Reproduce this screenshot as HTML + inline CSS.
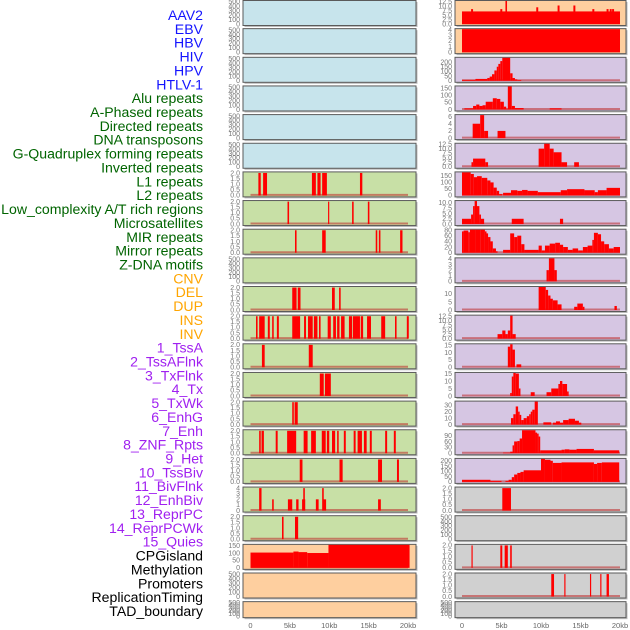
<!DOCTYPE html>
<html><head><meta charset="utf-8">
<style>
html,body{margin:0;padding:0;background:#fff;}
svg{display:block;font-family:"Liberation Sans",sans-serif;}
</style></head>
<body>
<svg id="chart" width="630" height="630" viewBox="0 0 630 630"></svg>
<script>
// ---- labels ----
const labelNames = ["AAV2","EBV","HBV","HIV","HPV","HTLV-1","Alu repeats","A-Phased repeats","Directed repeats","DNA transposons","G-Quadruplex forming repeats","Inverted repeats","L1 repeats","L2 repeats","Low_complexity A/T rich regions","Microsatellites","MIR repeats","Mirror repeats","Z-DNA motifs","CNV","DEL","DUP","INS","INV","1_TssA","2_TssAFlnk","3_TxFlnk","4_Tx","5_TxWk","6_EnhG","7_Enh","8_ZNF_Rpts","9_Het","10_TssBiv","11_BivFlnk","12_EnhBiv","13_ReprPC","14_ReprPCWk","15_Quies","CPGisland","Methylation","Promoters","ReplicationTiming","TAD_boundary"];
const labelColors = ["#1414ff","#1414ff","#1414ff","#1414ff","#1414ff","#1414ff",
 "#006400","#006400","#006400","#006400","#006400","#006400","#006400","#006400","#006400","#006400","#006400","#006400","#006400",
 "#ffa500","#ffa500","#ffa500","#ffa500","#ffa500",
 "#a020f0","#a020f0","#a020f0","#a020f0","#a020f0","#a020f0","#a020f0","#a020f0","#a020f0","#a020f0","#a020f0","#a020f0","#a020f0","#a020f0","#a020f0",
 "#000","#000","#000","#000","#000"];

// ---- x axis ----
const xTickValues = [0,5,10,15,20];
const xTickLabels = ["0","5kb","10kb","15kb","20kb"];

// ---- middle column segments [startKb, endKb, value] ----
const mid6 = [[1.0,1.3,2],[1.6,2.1,2],[7.8,8.3,2],[8.5,8.9,2],[9.1,9.7,2],[13.9,14.2,2]];
const mid7 = [[4.7,4.9,2],[9.85,10.0,2],[12.9,13.1,2],[14.9,15.1,2]];
const mid8 = [[5.65,5.85,2],[9.1,9.55,2],[15.9,16.1,2],[16.3,16.5,2],[19.0,19.3,2]];
const mid10 = [[5.3,5.85,2],[6.0,6.35,2],[10.35,10.7,2],[11.25,11.45,2]];
const mid11 = [[0.7,0.9,2],[1.1,1.8,2],[2.2,2.45,2],[2.75,2.95,2],[3.35,3.6,2],[5.3,6.3,2],[6.8,7.05,2],[7.3,7.9,2],[8.05,8.5,2],[8.7,8.9,2],[9.8,10.2,2],[10.5,10.85,2],[11.0,11.3,2],[11.5,11.95,2],[12.5,12.9,2],[13.0,13.9,2],[14.0,14.3,2],[14.8,15.3,2],[16.6,17.1,2],[18.35,18.55,2],[19.85,20.1,2]];
const mid12 = [[1.45,1.8,2],[7.4,7.9,2]];
const mid13 = [[8.8,9.3,2],[9.45,10.2,2]];
const mid14 = [[5.3,5.5,2],[5.6,6.0,2]];
const mid15 = [[1.1,1.3,2],[1.4,1.7,2],[3.2,3.45,2],[4.65,5.8,2],[6.75,7.25,2],[7.7,8.3,2],[9.05,9.55,2],[9.7,10.0,2],[10.35,10.75,2],[11.0,11.2,2],[11.85,12.1,2],[13.1,13.35,2],[13.6,14.15,2],[14.4,14.75,2],[15.15,15.4,2],[17.1,17.35,2],[18.2,18.45,2]];
const mid16 = [[6.25,6.6,2],[11.3,11.7,2],[16.2,16.7,2],[18.6,18.85,2]];
const mid17 = [[1.1,1.4,4],[2.75,2.95,2],[4.75,5.3,2],[5.8,6.1,2],[6.55,6.95,2],[6.7,6.9,4],[8.3,8.65,2],[9.1,9.3,4],[9.25,9.6,2],[16.2,16.55,2]];
const mid18 = [[4.0,4.2,2],[5.65,6.05,2]];
const mid19 = [[0,5.45,103],[5.45,6.1,110],[6.1,7.2,106],[7.2,9.9,100],[9.9,20.2,160]];

// ---- right column segments ----
const right0 = [[0,20,7.0],[1.15,1.4,8.3],[4.85,5.1,8.3],[5.5,5.7,13],[9.4,9.65,9.3],[12.1,12.35,10.3],[14.1,14.35,10.3],[16.5,16.75,8.3],[18.3,18.55,8.3],[18.7,18.95,8.3],[19.0,19.25,8.3]];
const right1 = [[0,20,4.1]];
const right2 = [[0,1.7,10],[1.7,3.2,20],[3.2,3.5,30],[3.5,3.8,45],[3.8,4.1,70],[4.1,4.4,110],[4.4,4.6,150],[4.6,4.85,180],[4.85,5.1,210],[5.1,6.1,250],[6.1,6.4,80],[6.4,6.7,30],[6.7,7.0,15],[7.0,7.5,8]];
const right3 = [[0.3,1.4,8],[1.4,1.8,25],[1.8,2.2,35],[2.2,2.6,25],[2.6,3.0,30],[3.0,3.9,55],[3.9,4.4,80],[4.4,4.85,75],[4.85,5.3,55],[5.3,5.6,20],[5.6,5.8,5],[5.8,6.3,170],[6.3,6.7,25],[6.7,7.8,10],[11.1,12.6,8]];
const right4 = [[1.35,2.3,4],[2.3,2.8,6.5],[2.8,3.3,2],[4.5,5.5,2]];
const right5 = [[1.2,1.4,2.5],[1.4,2.95,4.5],[2.95,3.3,2.5],[9.7,10.4,10],[10.4,11.1,13],[11.1,11.6,10],[11.6,12.6,8],[12.6,13.3,2.5],[14.2,14.8,2.5]];
const right6 = [[0,1.1,180],[1.1,1.5,165],[1.5,1.9,140],[1.9,2.5,148],[2.5,3.2,135],[3.2,3.6,115],[3.6,4.0,100],[4.0,4.4,60],[4.4,4.7,35],[4.7,5.1,10],[5.2,6.2,20],[6.2,7.0,40],[7.0,7.6,35],[7.6,8.3,42],[8.3,9.6,35],[9.6,12.5,25],[12.5,13.3,40],[13.3,15.5,48],[15.5,16.8,40],[16.8,17.2,25],[17.2,18.3,40],[18.3,20.0,58]];
const right7 = [[0,1.15,2.5],[1.15,1.4,4.5],[1.4,1.6,8.5],[1.6,1.9,11],[1.9,2.2,8.5],[2.2,2.4,4.5],[2.4,2.8,2.5],[6.3,7.8,2.5],[12.4,12.8,2.5]];
const right8 = [[0,0.2,75],[0.2,0.8,78],[0.8,1.0,72],[1.0,1.7,85],[1.7,2.3,82],[2.3,2.9,85],[2.9,3.1,75],[3.1,3.3,68],[3.3,3.6,55],[3.6,3.9,40],[3.9,4.3,15],[4.3,4.5,5],[5.2,6.1,10],[6.1,6.6,68],[6.6,7.0,55],[7.0,7.5,60],[7.5,7.9,30],[7.9,9.7,10],[9.7,10.1,25],[10.1,10.5,8],[10.5,11.1,25],[11.1,11.8,32],[11.8,12.4,35],[12.4,12.8,28],[12.8,13.4,20],[13.4,14.0,10],[14.0,14.7,15],[14.7,15.3,8],[15.3,15.9,20],[15.9,16.5,25],[16.5,16.7,45],[16.7,17.2,70],[17.2,17.6,65],[17.6,18.0,40],[18.0,18.6,30],[18.6,19.2,15],[19.2,20.0,20]];
const right9 = [[10.7,11.0,2],[11.0,11.7,4.1],[11.7,12.0,2]];
const right10 = [[9.7,10.6,15],[10.6,10.9,12.5],[10.9,11.2,9],[11.2,11.5,7],[11.5,12.1,6],[12.1,12.6,3.5],[14.2,14.6,2],[14.6,15.3,4],[15.3,15.5,2],[19.3,19.6,2.5]];
const right11 = [[4.5,5.1,2.5],[5.1,5.5,4.5],[5.5,5.8,2.5],[5.8,6.1,4.5],[6.1,6.4,13],[6.4,6.8,2.5]];
const right12 = [[5.8,6.1,14],[6.1,6.4,16],[6.4,6.7,12],[6.9,7.5,2]];
const right13 = [[6.1,6.3,2],[6.3,6.5,13],[6.5,6.8,18],[6.8,7.2,15],[7.2,7.4,5],[8.7,9.2,2.5],[10.7,11.3,2.5],[11.3,12.2,5],[12.2,12.4,8],[12.4,12.7,10],[12.7,13.3,8],[13.3,13.5,3]];
const right14 = [[6.2,6.5,10],[6.5,6.8,16],[6.8,7.1,28],[7.1,7.3,20],[7.3,7.5,15],[7.5,7.8,7],[7.8,8.2,10],[8.2,8.5,13],[8.5,8.7,16],[8.7,8.9,20],[8.9,9.2,23],[9.2,9.6,36],[10.3,11.3,3.5],[11.5,11.9,3],[11.9,12.4,5],[12.4,12.8,3],[12.8,13.5,7],[13.5,14.3,9],[14.3,14.8,6],[14.8,15.1,3]];
const right15 = [[5.2,6.1,3],[6.1,6.4,8],[6.4,6.6,40],[6.6,7.0,60],[7.0,7.3,62],[7.3,7.6,75],[7.6,9.3,120],[9.3,9.5,105],[9.5,9.7,100],[9.7,9.9,85],[9.9,12.6,15],[12.6,13.0,18],[13.0,13.6,20],[13.6,14.5,18],[14.5,16.7,22],[16.7,19.9,15]];
const right16 = [[0,3.6,20],[3.6,5.0,10],[5.5,5.9,10],[5.9,6.3,20],[6.3,6.6,45],[6.6,7.0,70],[7.0,7.4,85],[7.4,7.8,95],[7.8,10.0,110],[10.0,10.5,225],[10.5,11.2,210],[11.2,11.5,200],[11.5,12.6,180],[12.6,16.7,185],[16.7,17.1,170],[17.1,17.7,180],[17.7,19.9,185]];
const right17 = [[5.1,6.2,2]];
const right19 = [[1.2,1.35,2],[4.85,5.1,2],[5.4,5.8,2],[6.1,6.3,2]];
const right20 = [[11.3,11.65,2],[12.95,13.1,2],[16.2,16.35,2],[17.5,17.65,2],[18.3,18.6,2]];

// ---- tick sets ----
const ticksEmpty = [0,100,200,300,400,500];
const ticksBin = [0,0.5,1,1.5,2];
const ticks04 = [0,1,2,3,4];
const ticks125 = [0,2.5,5,7.5,10,12.5];
const ticks10 = [0,2.5,5,7.5,10];
const ticks200 = [0,50,100,150,200];
const ticks150 = [0,50,100,150];
const ticks6 = [0,2,4,6];
const ticks80 = [0,20,40,60,80];
const ticks4 = [0,1,2,3,4];
const ticksA = [0,5,10];
const ticks15 = [0,5,10,15];
const ticks30 = [0,10,20,30];
const ticks90 = [0,30,60,90];

const BLUE="#c7e4ec", GREEN="#c8e0a6", ORANGE="#fecf9f", PURPLE="#d6c6e3", GRAY="#d0d0d0";

const midRows = [
 [BLUE,null,ticksEmpty,520],[BLUE,null,ticksEmpty,520],[BLUE,null,ticksEmpty,520],[BLUE,null,ticksEmpty,520],[BLUE,null,ticksEmpty,520],[BLUE,null,ticksEmpty,520],
 [GREEN,mid6,ticksBin,2.05],[GREEN,mid7,ticksBin,2.05],[GREEN,mid8,ticksBin,2.05],[GREEN,null,ticksEmpty,520],
 [GREEN,mid10,ticksBin,2.05],[GREEN,mid11,ticksBin,2.05],[GREEN,mid12,ticksBin,2.05],[GREEN,mid13,ticksBin,2.05],
 [GREEN,mid14,ticksBin,2.05],[GREEN,mid15,ticksBin,2.05],[GREEN,mid16,ticksBin,2.05],[GREEN,mid17,ticks04,4.1],[GREEN,mid18,ticksBin,2.05],
 [ORANGE,mid19,ticks150,155],[ORANGE,null,ticksEmpty,520],[ORANGE,null,ticksEmpty,520]
];
const rightRows = [
 [ORANGE,right0,ticks125,12.8],[ORANGE,right1,ticks4,4.1],[PURPLE,right2,ticks200,245],[PURPLE,right3,ticks150,164],
 [PURPLE,right4,ticks6,6.4],[PURPLE,right5,ticks125,12.7],[PURPLE,right6,ticks150,177],[PURPLE,right7,ticks10,10.9],
 [PURPLE,right8,ticks80,81],[PURPLE,right9,ticks4,4.1],[PURPLE,right10,ticksA,14.3],[PURPLE,right11,ticks125,12.7],
 [PURPLE,right12,ticks15,15.6],[PURPLE,right13,ticks15,15.4],[PURPLE,right14,ticks30,35.5],[PURPLE,right15,ticks90,117],
 [PURPLE,right16,ticks200,218],[GRAY,right17,ticksBin,2.05],[GRAY,null,ticksEmpty,520],[GRAY,right19,ticksBin,2.05],
 [GRAY,right20,ticksBin,2.05],[GRAY,null,ticksEmpty,520]
];

const NS="http://www.w3.org/2000/svg";
const svg=document.getElementById('chart');
function mk(tag,attrs,parent){const e=document.createElementNS(NS,tag);for(const k in attrs)e.setAttribute(k,attrs[k]);(parent||svg).appendChild(e);return e;}

labelNames.forEach((t,i)=>{
  const e=mk('text',{x:203,y:15+i*13.86+5,'text-anchor':'end','font-size':14.1,fill:labelColors[i]});
  e.textContent=t;
  
  
});

function fmt(v,ticks){const dec=ticks.some(t=>t%1!==0)||ticks===ticksBin;return dec?v.toFixed(1):String(v);}

function drawPanel(col,i,row){
  const [bg,data,ticks,ymax]=row;
  const left = col==='mid'?243:455, right = col==='mid'?416:626;
  const x0 = col==='mid'?250.5:462, x20 = col==='mid'?408:620;
  const top = i===0?0.5:i*28.65;
  const h = i===21?16:25;
  const xs = kb=>x0+(x20-x0)*kb/20;
  const yb = top+h-1.5, yt = top+0.5;
  const ys = v=>yb-(yb-yt)*Math.min(v,ymax)/ymax;
  const g=mk('g',{});
  
  
  mk('rect',{x:left+1.5,y:top+1.5,width:right-left,height:h,fill:'#bbb'},g);
  mk('rect',{x:left,y:top,width:right-left,height:h,fill:bg,stroke:'#5a5a5a','stroke-width':1},g);
  ticks.forEach(t=>{
    const tx=mk('text',{x:left-3,y:ys(t)+2.3,'text-anchor':'end','font-size':7,fill:'#777'},g);
    tx.textContent=fmt(t,ticks);
    
    
  });
  if(data){
    mk('line',{x1:xs(0),x2:xs(20),y1:yb-0.5,y2:yb-0.5,stroke:'rgba(190,40,40,0.55)','stroke-width':2},g);
    data.forEach(s=>{
      const b=mk('rect',{x:xs(s[0]),y:ys(s[2]),width:Math.max(xs(s[1])-xs(s[0]),1),height:yb-ys(s[2]),fill:'#ff0000'},g);
      
      
    });
  }
}
midRows.forEach((r,i)=>drawPanel('mid',i,r));
rightRows.forEach((r,i)=>drawPanel('right',i,r));

[['mid',250.5,408],['right',462,620]].forEach(([c,a,b])=>{
  xTickValues.forEach((v,k)=>{
    const t=mk('text',{x:a+(b-a)*v/20,y:628,'text-anchor':'middle','font-size':7.5,fill:'#666'});
    t.textContent=xTickLabels[k];
    
    
  });
});
</script>
</body></html>
